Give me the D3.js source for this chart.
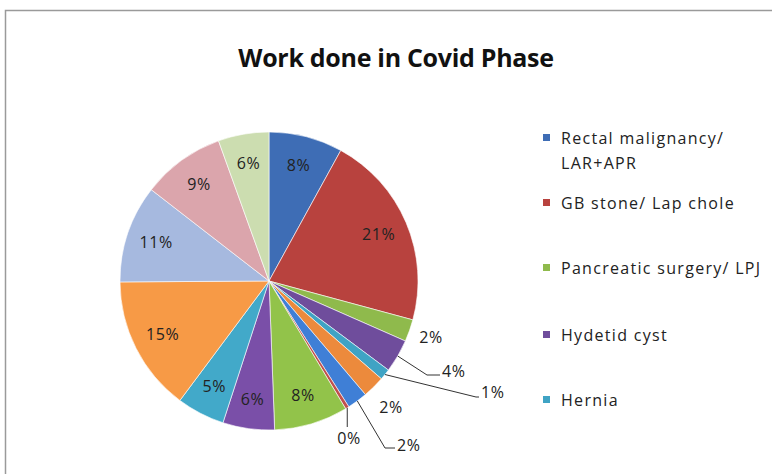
<!DOCTYPE html>
<html>
<head>
<meta charset="utf-8">
<script src="https://cdn.jsdelivr.net/npm/d3@7"></script>
<style>
  body { margin: 0; background: #fff; }
  text { font-family: "Open Sans", "Liberation Sans", sans-serif; fill: #222; }
</style>
</head>
<body>
<script>
// slices clockwise from 12 o'clock, values in percent
const categories = [
  "Rectal malignancy/ LAR+APR", "GB stone/ Lap chole", "Pancreatic surgery/ LPJ",
  "Hydetid cyst", "Hernia", "Item 6", "Item 7", "Item 8", "Item 9", "Item 10",
  "Item 11", "Item 12", "Item 13", "Item 14", "Item 15"
];
const values = [8.0, 21.2, 2.4, 3.6, 1.2, 2.4, 2.2, 0.4, 8.0, 5.6, 5.2, 14.7, 10.6, 9.0, 5.5];
const colors = [
  "#3e6db5", "#b8423e", "#8fba4c", "#6f4d9c", "#3fa3c4", "#ec8a3c", "#3f7fd6", "#c0504d",
  "#92c34a", "#7a4fa8", "#42a9c9", "#f79a46", "#a6b9df", "#dba5ac", "#ccddb0"
];
const legendItems = [0, 1, 2, 3, 4]; // only these fit in the legend box

const W = 772, H = 474;
const cx = 269, cy = 281, R = 149;

const svg = d3.select("body").append("svg").attr("width", W).attr("height", H);

svg.append("rect")
  .attr("x", 5.5).attr("y", 10.5).attr("width", 800).attr("height", 500)
  .attr("fill", "none").attr("stroke", "#9a9a9a").attr("stroke-width", 1.5);

svg.append("text")
  .attr("x", 396).attr("y", 67)
  .attr("text-anchor", "middle")
  .style("font-size", "25px").style("font-weight", "bold").style("fill", "#111")
  .style("letter-spacing", "-0.3px")
  .text("Work done in Covid Phase");

const pie = d3.pie().sort(null).value(d => d)(values);
const arc = d3.arc().innerRadius(0).outerRadius(R);
const edge = d3.arc().innerRadius(R).outerRadius(R);

const g = svg.append("g").attr("transform", `translate(${cx},${cy})`);

g.selectAll("path.slice")
  .data(pie)
  .join("path")
  .attr("class", "slice")
  .attr("d", arc)
  .attr("fill", (d, i) => colors[i])
  .attr("stroke", "#fff")
  .attr("stroke-width", 0.6);

// outside label layout (relative to centre): text position + optional leader elbow
const outside = {
  2: { x: 162, y: 56, anchor: "middle" },
  3: { x: 173, y: 90, anchor: "start", elbow: [158, 94], end: [171, 94] },
  4: { x: 212, y: 111, anchor: "start", elbow: [207, 116], end: [210, 116] },
  5: { x: 122, y: 126, anchor: "middle" },
  6: { x: 128, y: 164, anchor: "start", elbow: [116, 167], end: [126, 167] },
  7: { x: 80, y: 157, anchor: "middle", down: 146 }
};

const labelText = v => Math.round(v) + "%";
const labelStyle = sel => sel.style("font-size", "16px").style("letter-spacing", "0.6px");

pie.forEach((d, i) => {
  const o = outside[i];
  if (!o) {
    const mid = (d.startAngle + d.endAngle) / 2;
    const rr = R * 0.8;
    g.append("text")
      .attr("x", rr * Math.sin(mid)).attr("y", -rr * Math.cos(mid))
      .attr("text-anchor", "middle").attr("dy", "0.35em")
      .call(labelStyle)
      .text(labelText(d.data));
    return;
  }
  const p = edge.centroid(d);
  if (o.elbow) {
    g.append("polyline")
      .attr("points", [p, o.elbow, o.end].map(q => q.join(",")).join(" "))
      .attr("fill", "none").attr("stroke", "#333").attr("stroke-width", 1);
  } else if (o.down) {
    g.append("line")
      .attr("x1", p[0]).attr("y1", p[1]).attr("x2", p[0]).attr("y2", o.down)
      .attr("stroke", "#333").attr("stroke-width", 1);
  }
  g.append("text")
    .attr("x", o.x).attr("y", o.y)
    .attr("text-anchor", o.anchor).attr("dy", "0.35em")
    .call(labelStyle)
    .text(labelText(d.data));
});

// legend
const legendY = [138, 203, 268, 335, 400];
const lg = svg.append("g");
legendItems.forEach((idx, k) => {
  const y = legendY[k];
  lg.append("rect")
    .attr("x", 543).attr("y", y - 4).attr("width", 7).attr("height", 7)
    .attr("fill", colors[idx]);
  const words = categories[idx].split("/ ");
  const t = lg.append("text")
    .attr("x", 561).attr("y", y).attr("dy", "0.35em")
    .style("font-size", "16px").style("letter-spacing", "1.3px");
  if (idx === 0) {
    t.append("tspan").attr("x", 561).text(words[0] + "/");
    t.append("tspan").attr("x", 561).attr("dy", "25px").text(words[1]);
  } else {
    t.text(categories[idx]);
  }
});
</script>
</body>
</html>
